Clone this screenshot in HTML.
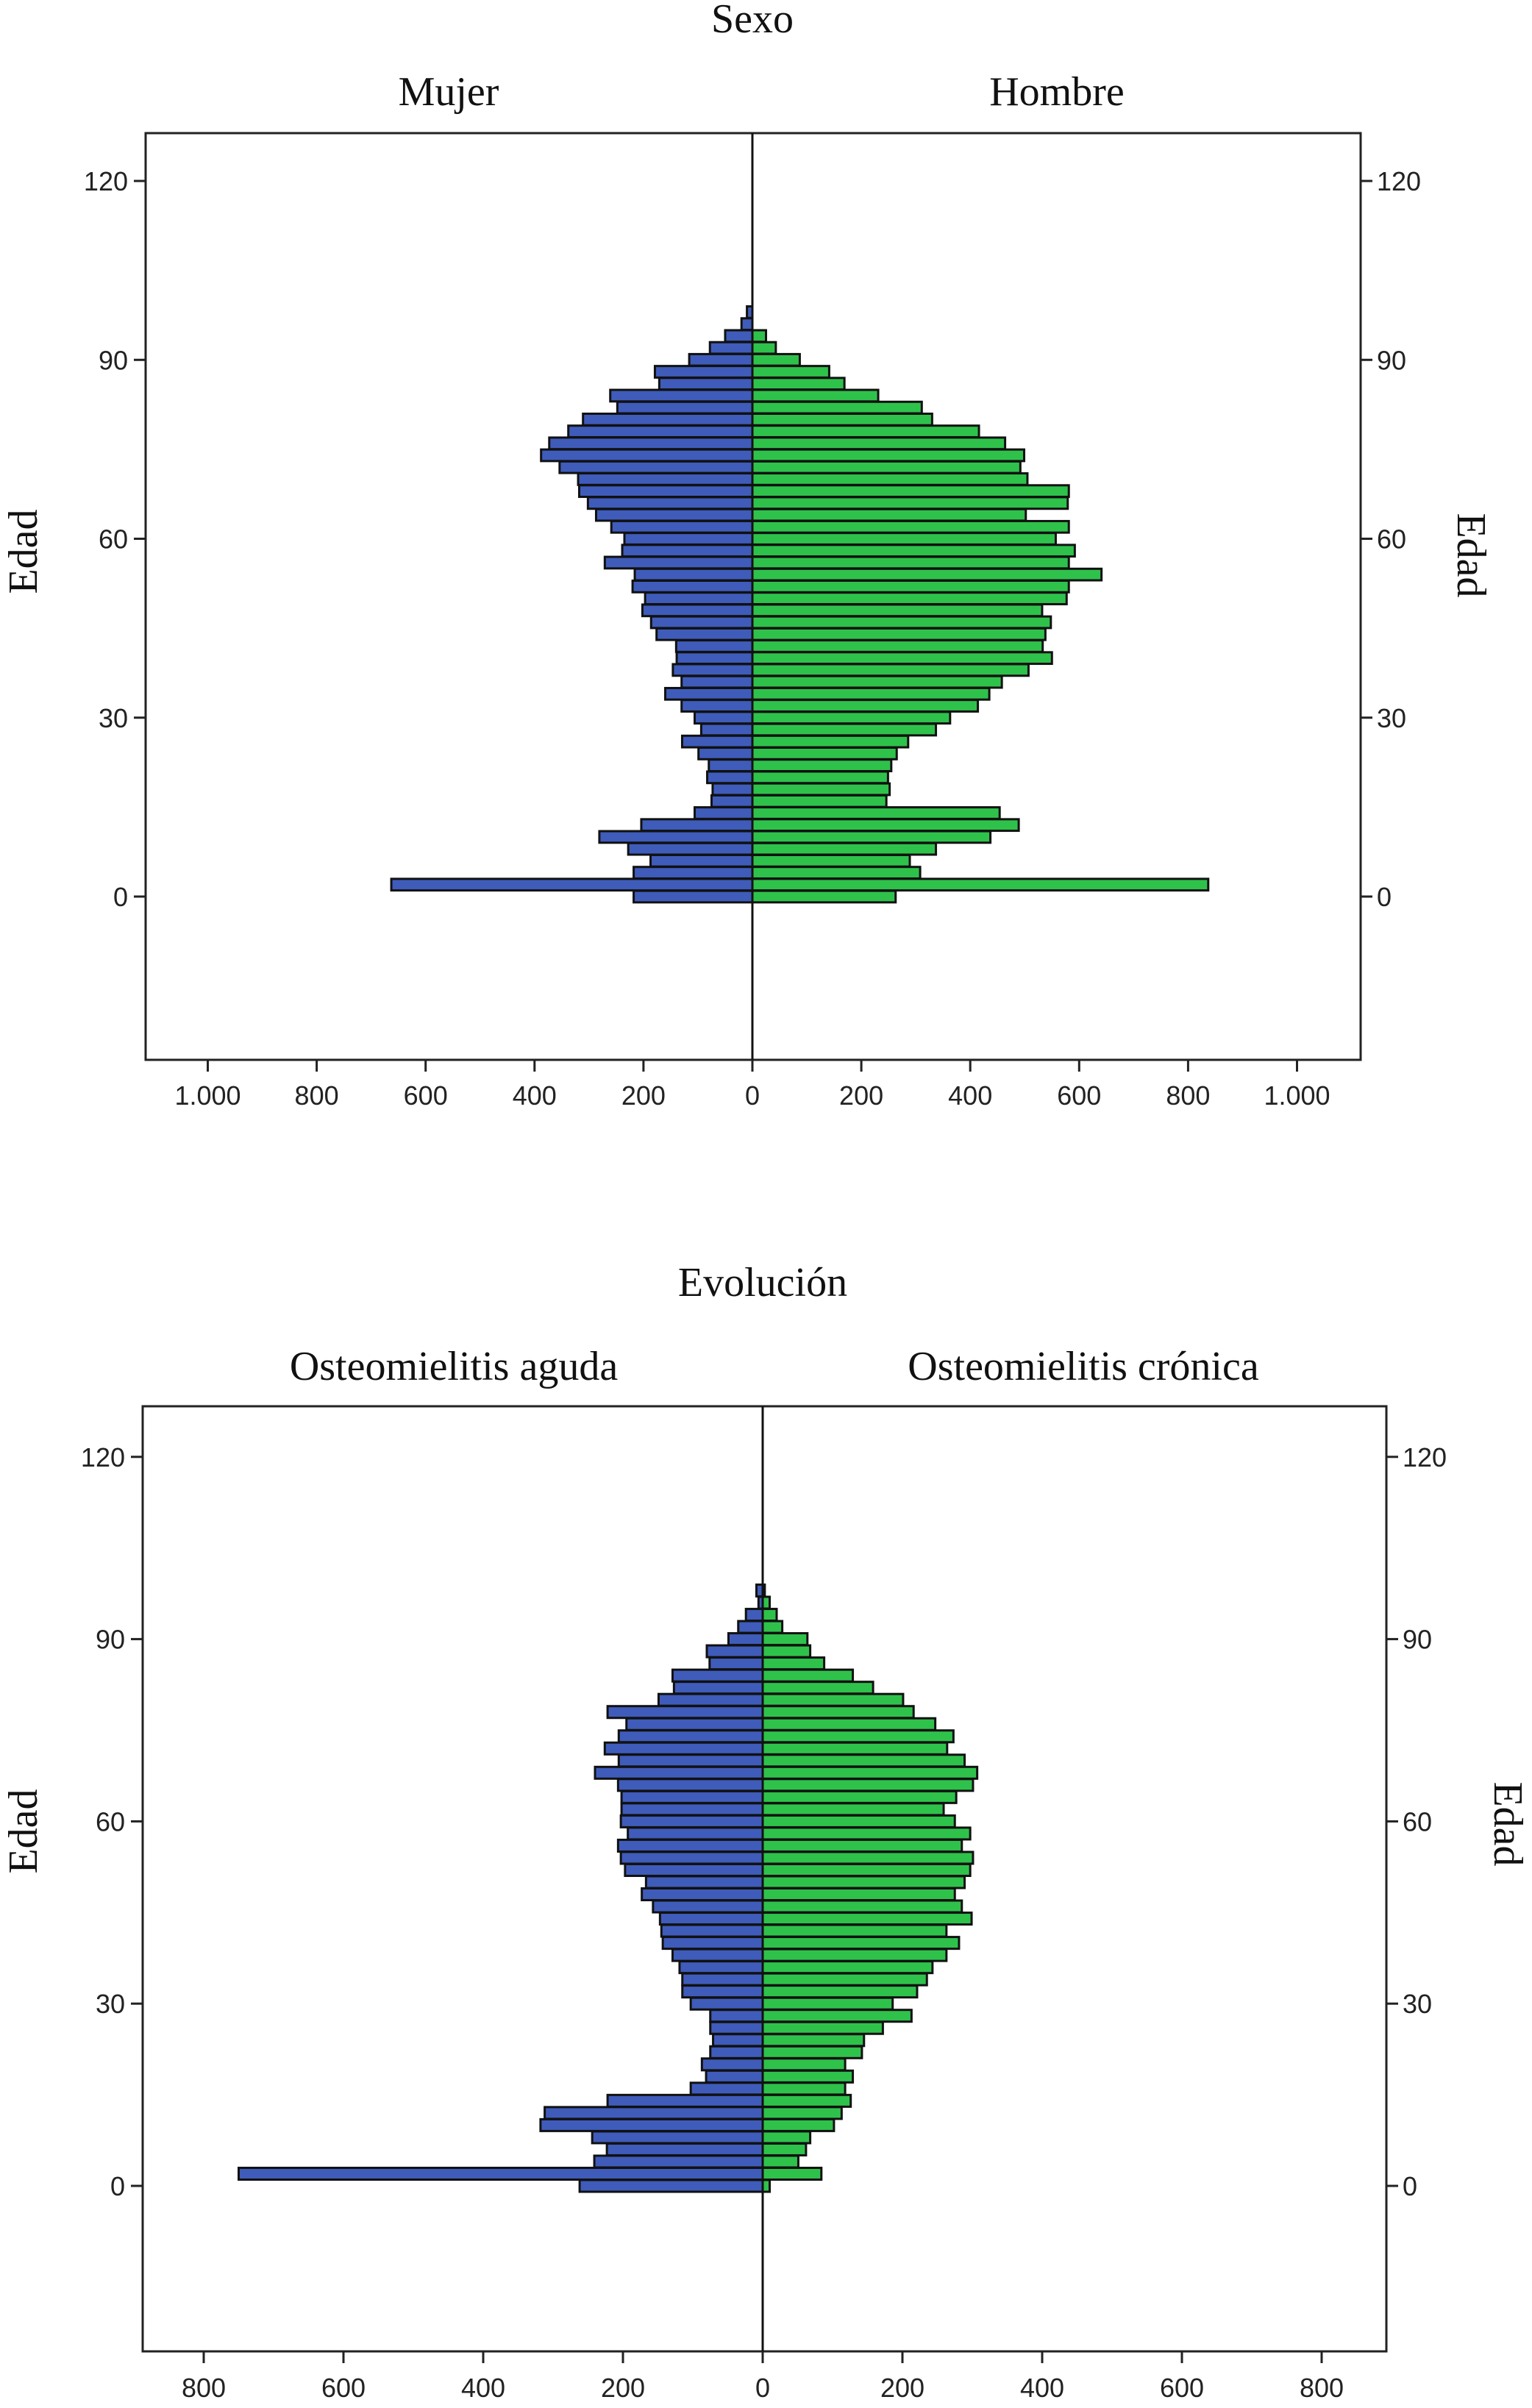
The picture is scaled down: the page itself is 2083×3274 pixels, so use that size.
<!DOCTYPE html>
<html><head><meta charset="utf-8">
<style>
html,body{margin:0;padding:0;background:#fff;}
svg{display:block;}
</style></head>
<body>
<svg id="chart" width="2083" height="3274" viewBox="0 0 2083 3274" xmlns="http://www.w3.org/2000/svg"></svg>
<script>
// ---- data (age bins centered at 0,2,...,98) ----
const ages = [0,2,4,6,8,10,12,14,16,18,20,22,24,26,28,30,32,34,36,38,40,42,44,46,48,50,52,54,56,58,60,62,64,66,68,70,72,74,76,78,80,82,84,86,88,90,92,94,96,98];
const mujer = [218,663,218,187,228,281,204,106,75,73,83,80,99,129,94,106,130,160,130,146,139,140,176,186,202,197,220,216,271,239,235,259,287,302,318,320,354,388,373,338,311,248,261,171,179,116,78,50,20,10];
const hombre = [263,837,308,289,337,437,489,454,246,252,249,255,265,286,337,363,414,435,458,507,550,533,538,548,532,577,581,641,581,592,557,581,502,579,581,505,492,499,464,416,330,311,231,169,141,87,43,25,0,0];
const aguda = [262,750,241,223,244,318,312,222,103,81,87,75,71,75,75,103,115,115,119,129,143,145,147,157,173,167,197,203,207,193,203,202,202,207,240,206,226,206,195,222,149,127,129,76,80,49,35,24,6,9];
const cronica = [10,84,51,62,68,102,113,126,118,129,118,142,145,172,213,186,221,235,243,263,281,263,299,285,275,289,297,301,285,297,275,259,277,301,307,289,264,273,247,216,201,158,129,88,68,64,28,20,10,3];
const yTicks = [0,30,60,90,120];
const xTicksTop = [-1000,-800,-600,-400,-200,0,200,400,600,800,1000];
const xTickLabelsTop = ["1.000","800","600","400","200","0","200","400","600","800","1.000"];
const xTicksBot = [-800,-600,-400,-200,0,200,400,600,800];
const xTickLabelsBot = ["800","600","400","200","0","200","400","600","800"];

const NS = "http://www.w3.org/2000/svg";
const svg = document.getElementById('chart');
function mk(tag, attrs, parent){
  const e = document.createElementNS(NS, tag);
  for (const k in attrs) e.setAttribute(k, attrs[k]);
  (parent||svg).appendChild(e);
  return e;
}
const TF = 56, LF = 36;

function drawPanel(cfg){
  const g = mk('g', {});
  
  
  const xS = v => cfg.cx + v*cfg.kx;
  const yS = a => cfg.y0 - a*cfg.ky;
  const t = mk('text', {x: cfg.cx, y: cfg.titleY, 'text-anchor':'middle', 'font-family':'Liberation Serif, serif', 'font-size':TF, fill:'#111'}, g);
  t.textContent = cfg.title;
  
  
  const l1 = mk('text', {x: cfg.leftLblX, y: cfg.subY, 'text-anchor':'middle', 'font-family':'Liberation Serif, serif', 'font-size':TF, fill:'#111'}, g);
  l1.textContent = cfg.leftLabel;
  
  
  const l2 = mk('text', {x: cfg.rightLblX, y: cfg.subY, 'text-anchor':'middle', 'font-family':'Liberation Serif, serif', 'font-size':TF, fill:'#111'}, g);
  l2.textContent = cfg.rightLabel;
  
  
  const fr = mk('rect', {x: cfg.fx0, y: cfg.fy0, width: cfg.fx1-cfg.fx0, height: cfg.fy1-cfg.fy0, fill:'none', stroke:'#222', 'stroke-width':3}, g);
  
  
  const bh = cfg.ky*2*0.97;
  for (let i=0;i<ages.length;i++){
    const y = yS(ages[i]) - bh/2;
    const vl = cfg.left[i], vr = cfg.right[i];
    if (vl>0){
      const r = mk('rect', {x: xS(-vl), y: y, width: xS(0)-xS(-vl), height: bh, fill:'#3f5cba', stroke:'#111', 'stroke-width':3}, g);
      
      
    }
    if (vr>0){
      const r = mk('rect', {x: xS(0), y: y, width: xS(vr)-xS(0), height: bh, fill:'#2fc24b', stroke:'#111', 'stroke-width':3}, g);
      
      
    }
  }
  const zl = mk('line', {x1: xS(0), x2: xS(0), y1: cfg.fy0, y2: cfg.fy1, stroke:'#111', 'stroke-width':3}, g);
  
  
  yTicks.forEach(a=>{
    const y = yS(a);
    const tl = mk('line', {x1: cfg.fx0-16, x2: cfg.fx0, y1:y, y2:y, stroke:'#222','stroke-width':3}, g);
    
    
    const tr = mk('line', {x1: cfg.fx1, x2: cfg.fx1+16, y1:y, y2:y, stroke:'#222','stroke-width':3}, g);
    
    
    const lt = mk('text', {x: cfg.fx0-24, y: y+13, 'text-anchor':'end', 'font-family':'Liberation Sans, sans-serif', 'font-size':LF, fill:'#222'}, g);
    lt.textContent = a;
    
    
    const rt = mk('text', {x: cfg.fx1+22, y: y+13, 'text-anchor':'start', 'font-family':'Liberation Sans, sans-serif', 'font-size':LF, fill:'#222'}, g);
    rt.textContent = a;
    
    
  });
  cfg.xt.forEach((v,i)=>{
    const x = xS(v);
    const tk = mk('line', {x1:x, x2:x, y1: cfg.fy1, y2: cfg.fy1+16, stroke:'#222','stroke-width':3}, g);
    
    
    const tx = mk('text', {x:x, y: cfg.xLblY, 'text-anchor':'middle', 'font-family':'Liberation Sans, sans-serif', 'font-size':LF, fill:'#222'}, g);
    tx.textContent = cfg.xl[i];
    
    
  });
  const yl = mk('text', {x:0, y:0, 'text-anchor':'middle', 'font-family':'Liberation Serif, serif', 'font-size':TF, fill:'#111', transform:`translate(${cfg.edadLX},${cfg.edadLY}) rotate(-90)`}, g);
  yl.textContent = 'Edad';
  
  
  const yr = mk('text', {x:0, y:0, 'text-anchor':'middle', 'font-family':'Liberation Serif, serif', 'font-size':TF, fill:'#111', transform:`translate(${cfg.edadRX},${cfg.edadRY}) rotate(90)`}, g);
  yr.textContent = 'Edad';
  
  
}

drawPanel({name:'sexo-pyramid', title:'Sexo', titleY:44, leftLabel:'Mujer', rightLabel:'Hombre', leftLblX:610, rightLblX:1437, subY:143,
  cx:1023, kx:0.7405, y0:1219, ky:8.108, fx0:198, fx1:1850, fy0:181, fy1:1441,
  xt:xTicksTop, xl:xTickLabelsTop, xLblY:1502, edadLX:50, edadLY:750, edadRX:1982, edadRY:755,
  left:mujer, right:hombre});

drawPanel({name:'evolucion-pyramid', title:'Evolución', titleY:1762, leftLabel:'Osteomielitis aguda', rightLabel:'Osteomielitis crónica', leftLblX:617, rightLblX:1473, subY:1876,
  cx:1037, kx:0.950, y0:2972, ky:8.26, fx0:194, fx1:1885, fy0:1912, fy1:3197,
  xt:xTicksBot, xl:xTickLabelsBot, xLblY:3259, edadLX:50, edadLY:2490, edadRX:2032, edadRY:2480,
  left:aguda, right:cronica});
</script>
</body></html>
